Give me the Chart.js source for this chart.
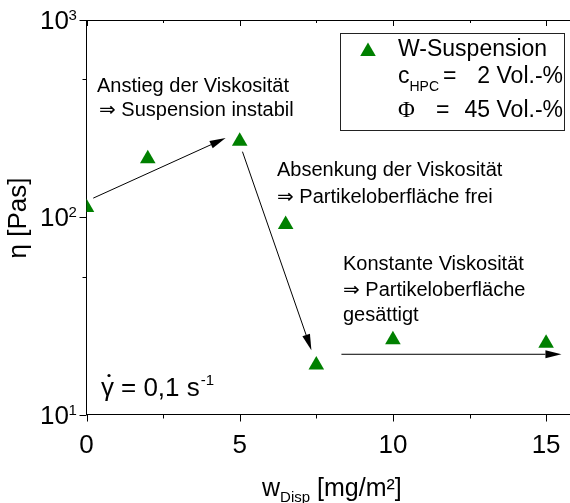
<!DOCTYPE html>
<html>
<head>
<meta charset="utf-8">
<script src="https://cdn.jsdelivr.net/npm/chart.js@4/dist/chart.umd.min.js"></script>
<style>
  html, body { margin: 0; padding: 0; background: #fff; }
  canvas { display: block; }
</style>
</head>
<body>
<canvas id="c" width="570" height="503"></canvas>
<script>
// Viscosity of the W suspension versus dispersant loading
const dispersant = [0, 2, 5, 6.5, 7.5, 10, 15];            // w_Disp [mg/m²]
const viscosity  = [112, 198, 243, 92, 17.8, 23.9, 23.0];  // η [Pas]

// Axis ticks
const xMajor = [0, 5, 10, 15];
const xMinor = [2.5, 7.5, 12.5];
const yMajor = [10, 100, 1000];
const yMinor = [50, 500];
const yExponent = ['1', '2', '3'];

// Trend arrows, in data units: [w_Disp, η]
const arrowFrom = [[0.22, 125], [5.09, 215], [8.32, 20.2]];
const arrowTo   = [[4.54, 252], [7.34, 21.2], [15.5, 20.2]];

const FONT = '"Liberation Sans", Arial, "DejaVu Sans", sans-serif';
const SERIF = '"Liberation Serif", "Times New Roman", serif';
const GREEN = '#008000';

function sub(ctx, x, y, main, small, mainPx, smallPx, dy) {
  ctx.font = mainPx + 'px ' + FONT;
  ctx.fillText(main, x, y);
  const w = ctx.measureText(main).width;
  ctx.font = smallPx + 'px ' + FONT;
  ctx.fillText(small, x + w, y + dy);
  return x + w + ctx.measureText(small).width;
}

const decorations = {
  id: 'decorations',
  afterDatasetsDraw(chart) {
    const ctx = chart.ctx;
    const xs = chart.scales.x, ys = chart.scales.y;
    const a = chart.chartArea;
    ctx.save();
    ctx.strokeStyle = '#000';
    ctx.fillStyle = '#000';
    ctx.lineWidth = 1;

    // top frame line
    ctx.beginPath();
    ctx.moveTo(a.left, a.top + 0.5);
    ctx.lineTo(a.right, a.top + 0.5);
    ctx.stroke();

    // bottom ticks (outward) and top ticks (inward)
    const tickX = (v, lenB, lenT) => {
      const px = Math.round(xs.getPixelForValue(v)) + 0.5;
      ctx.beginPath();
      ctx.moveTo(px, a.bottom); ctx.lineTo(px, a.bottom + lenB);
      ctx.moveTo(px, a.top); ctx.lineTo(px, a.top + lenT);
      ctx.stroke();
    };
    xMajor.forEach(v => tickX(v, 7, 6));
    xMinor.forEach(v => tickX(v, 4, 3));

    // left ticks (outward)
    const tickY = (v, len) => {
      const py = Math.round(ys.getPixelForValue(v)) + 0.5;
      ctx.beginPath();
      ctx.moveTo(a.left - len, py); ctx.lineTo(a.left, py);
      ctx.stroke();
    };
    yMajor.forEach(v => tickY(v, 7));
    yMinor.forEach(v => tickY(v, 4));

    // y tick labels 10^n
    yMajor.forEach((v, i) => {
      const py = ys.getPixelForValue(v);
      ctx.font = '26px ' + FONT;
      ctx.textAlign = 'right';
      ctx.textBaseline = 'alphabetic';
      ctx.fillText('10', 69, py + 9);
      ctx.textAlign = 'left';
      ctx.font = '15px ' + FONT;
      ctx.fillText(yExponent[i], 68.5, py);
    });

    // arrows
    arrowFrom.forEach((p, i) => {
      const x1 = xs.getPixelForValue(p[0]), y1 = ys.getPixelForValue(p[1]);
      const x2 = xs.getPixelForValue(arrowTo[i][0]), y2 = ys.getPixelForValue(arrowTo[i][1]);
      const ang = Math.atan2(y2 - y1, x2 - x1);
      const L = 16, H = 4;
      const bx = x2 - L * Math.cos(ang), by = y2 - L * Math.sin(ang);
      ctx.beginPath();
      ctx.moveTo(x1, y1); ctx.lineTo(bx, by);
      ctx.stroke();
      ctx.beginPath();
      ctx.moveTo(x2, y2);
      ctx.lineTo(bx + H * Math.sin(ang), by - H * Math.cos(ang));
      ctx.lineTo(bx - H * Math.sin(ang), by + H * Math.cos(ang));
      ctx.closePath();
      ctx.fill();
    });

    // annotation texts
    ctx.textAlign = 'left';
    ctx.textBaseline = 'alphabetic';
    ctx.font = '20px ' + FONT;
    ctx.fillText('Anstieg der Viskosität', 97, 92);
    ctx.fillText('\u21D2 Suspension instabil', 99, 116);
    ctx.fillText('Absenkung der Viskosität', 277, 176);
    ctx.fillText('\u21D2 Partikeloberfläche frei', 277, 203);
    ctx.fillText('Konstante Viskosität', 343, 270);
    ctx.fillText('\u21D2 Partikeloberfläche', 343, 296);
    ctx.fillText('gesättigt', 343, 321);

    // shear rate
    ctx.font = '26px ' + FONT;
    ctx.fillText('\u03B3', 101, 396);
    ctx.beginPath();
    ctx.arc(109, 375.5, 1.6, 0, Math.PI * 2);
    ctx.fill();
    ctx.fillText('= 0,1 s', 121, 396);
    const wS = ctx.measureText('= 0,1 s').width;
    ctx.font = '15px ' + FONT;
    ctx.fillText('-1', 121 + wS + 1, 385);

    // legend box
    ctx.strokeStyle = '#222';
    ctx.strokeRect(340.5, 33.5, 224, 97);
    ctx.fillStyle = GREEN;
    ctx.beginPath();
    Chart.helpers.drawPoint(ctx, { pointStyle: 'triangle', radius: 9, rotation: 0, borderWidth: 0 }, 368, 51.5);
    ctx.fillStyle = '#000';
    ctx.font = '23px ' + FONT;
    ctx.fillText('W-Suspension', 398, 56);
    sub(ctx, 398, 83, 'c', 'HPC', 23, 14, 8);
    ctx.font = '23px ' + FONT;
    ctx.fillText('=', 443, 83);
    ctx.font = '23px ' + SERIF;
    ctx.fillText('\u03A6', 398, 117);
    ctx.font = '23px ' + FONT;
    ctx.fillText('=', 436, 117);
    ctx.textAlign = 'right';
    ctx.fillText('2 Vol.-%', 563, 83);
    ctx.fillText('45 Vol.-%', 563, 117);

    // axis titles
    ctx.textAlign = 'left';
    const titleParts = ['w', 'Disp', ' [mg/m²]'];
    ctx.font = '25px ' + FONT;
    const w1 = ctx.measureText(titleParts[0]).width;
    ctx.font = '15px ' + FONT;
    const w2 = ctx.measureText(titleParts[1]).width;
    const tx = 262;
    ctx.font = '25px ' + FONT;
    ctx.fillText(titleParts[0], tx, 496);
    ctx.font = '15px ' + FONT;
    ctx.fillText(titleParts[1], tx + w1, 502);
    ctx.font = '25px ' + FONT;
    ctx.fillText(titleParts[2], tx + w1 + w2, 496);

    ctx.save();
    ctx.translate(26, 218);
    ctx.rotate(-Math.PI / 2);
    ctx.textAlign = 'center';
    ctx.font = '26px ' + FONT;
    ctx.fillText('\u03B7 [Pas]', 0, 0);
    ctx.restore();

    ctx.restore();
  }
};

new Chart(document.getElementById('c'), {
  type: 'scatter',
  data: {
    datasets: [{
      label: 'W-Suspension',
      data: dispersant.map((x, i) => ({ x: x, y: viscosity[i] })),
      pointStyle: 'triangle',
      pointRadius: 9,
      pointHoverRadius: 9,
      backgroundColor: GREEN,
      borderColor: GREEN,
      borderWidth: 0,
      clip: 0
    }]
  },
  options: {
    responsive: false,
    animation: false,
    devicePixelRatio: 1,
    events: [],
    layout: { autoPadding: false, padding: { top: 20, left: 0, right: 0, bottom: 0 } },
    plugins: { legend: { display: false }, tooltip: { enabled: false } },
    scales: {
      x: {
        type: 'linear',
        min: 0,
        max: 15.78,
        afterBuildTicks: s => { s.ticks = xMajor.map(v => ({ value: v })); },
        afterFit: s => { s.height = 88.5; s.paddingLeft = 0; s.paddingRight = 0; },
        ticks: {
          color: '#000',
          font: { family: FONT, size: 26 },
          padding: 16,
          maxRotation: 0,
          autoSkip: false,
          callback: v => String(v)
        },
        grid: { display: false, drawTicks: false },
        border: { display: true, color: '#000', width: 1 }
      },
      y: {
        type: 'logarithmic',
        min: 10,
        max: 1000,
        afterFit: s => { s.width = 86.5; s.paddingTop = 0; s.paddingBottom = 0; },
        ticks: { display: false },
        grid: { display: false, drawTicks: false },
        border: { display: true, color: '#000', width: 1 }
      }
    }
  },
  plugins: [decorations]
});
</script>
</body>
</html>
